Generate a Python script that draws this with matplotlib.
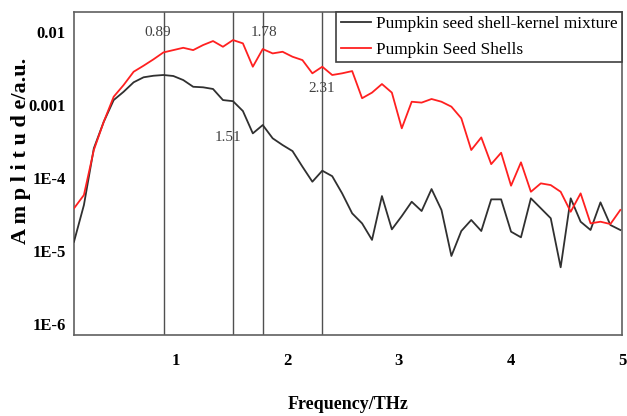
import matplotlib
matplotlib.use('Agg')
import matplotlib.pyplot as plt

# frequency grid (THz) and spectral amplitudes
freq = [0.085, 0.174, 0.263, 0.352, 0.441, 0.530, 0.620, 0.709, 0.798, 0.887,
        0.976, 1.065, 1.154, 1.243, 1.332, 1.421, 1.511, 1.600, 1.689, 1.778,
        1.867, 1.956, 2.045, 2.134, 2.223, 2.312, 2.401, 2.490, 2.580, 2.669,
        2.758, 2.847, 2.936, 3.025, 3.114, 3.203, 3.292, 3.381, 3.470, 3.559,
        3.648, 3.738, 3.827, 3.916, 4.005, 4.094, 4.183, 4.272, 4.361, 4.450,
        4.540, 4.629, 4.718, 4.807, 4.896, 4.985]

mixture = [1.34e-5, 4.26e-5, 2.55e-4, 5.9e-4, 1.17e-3, 1.52e-3, 2.05e-3, 2.40e-3, 2.52e-3, 2.58e-3,
           2.50e-3, 2.20e-3, 1.78e-3, 1.75e-3, 1.66e-3, 1.17e-3, 1.13e-3, 8.28e-4, 4.09e-4, 5.32e-4,
           3.5e-4, 2.83e-4, 2.34e-4, 1.43e-4, 8.9e-5, 1.26e-4, 1.06e-4, 6.16e-5, 3.28e-5, 2.39e-5,
           1.42e-5, 5.66e-5, 1.98e-5, 3.01e-5, 4.73e-5, 3.53e-5, 7.06e-5, 3.65e-5, 8.55e-6, 1.88e-5,
           2.66e-5, 1.88e-5, 5.1e-5, 5.1e-5, 1.84e-5, 1.54e-5, 5.27e-5, 3.85e-5, 2.81e-5, 5.98e-6,
           5.27e-5, 2.52e-5, 1.94e-5, 4.64e-5, 2.27e-5, 1.94e-5]

shells = [3.84e-5, 5.85e-5, 2.42e-4, 5.9e-4, 1.30e-3, 1.88e-3, 2.86e-3, 3.46e-3, 4.23e-3, 5.26e-3,
          5.66e-3, 6.09e-3, 5.66e-3, 6.64e-3, 7.53e-3, 6.29e-3, 7.77e-3, 7.0e-3, 3.35e-3, 5.85e-3,
          5.1e-3, 5.37e-3, 4.59e-3, 4.13e-3, 2.72e-3, 3.35e-3, 2.58e-3, 2.72e-3, 2.92e-3, 1.24e-3,
          1.48e-3, 1.94e-3, 1.48e-3, 4.8e-4, 1.11e-3, 1.08e-3, 1.21e-3, 1.11e-3, 9.5e-4, 6.58e-4,
          2.42e-4, 3.6e-4, 1.55e-4, 2.22e-4, 7.85e-5, 1.64e-4, 6.48e-5, 8.45e-5, 8.0e-5, 6.48e-5,
          3.45e-5, 6.16e-5, 2.39e-5, 2.52e-5, 2.34e-5, 3.65e-5]

# marked frequencies and where their labels sit (y in data units)
peaks = [0.89, 1.51, 1.78, 2.31]
peak_labels = ['0.89', '1.51', '1.78', '2.31']
peak_label_x = [0.84, 1.47, 1.79, 2.31]
peak_label_y = [0.01, 3.6e-4, 0.01, 1.7e-3]

yticks = [1e-6, 1e-5, 1e-4, 1e-3, 1e-2]
ytick_labels = ['1E-6', '1E-5', '1E-4', '0.001', '0.01']
xticks = [1, 2, 3, 4, 5]

serif = 'Liberation Serif'

fig = plt.figure(figsize=(6.27, 4.16), dpi=100)
ax = fig.add_axes([0.118, 0.1947, 0.874, 0.7763])

for p in peaks:
    ax.axvline(p, color='#505050', lw=1.0, zorder=1)

ax.plot(freq, mixture, color='#303030', lw=1.3, label='Pumpkin seed shell-kernel mixture', zorder=3)
ax.plot(freq, shells, color='#ff2020', lw=1.3, label='Pumpkin Seed Shells', zorder=3)

for lx, ly, txt in zip(peak_label_x, peak_label_y, peak_labels):
    ax.text(lx, ly, txt, ha='center', va='center', fontsize=11,
            family=serif, color='#404040')

ax.set_yscale('log')
ax.set_xlim(0.085, 5.0)
ax.set_ylim(10 ** -6.151, 10 ** -1.726)

ax.set_yticks(yticks)
ax.set_yticklabels(ytick_labels)
ax.yaxis.set_minor_locator(matplotlib.ticker.NullLocator())
ax.set_xticks(xticks)
ax.set_xticklabels([str(t) for t in xticks])
ax.tick_params(axis='both', length=0)
ax.tick_params(axis='y', pad=6)
ax.tick_params(axis='x', pad=13)
for lab in ax.get_xticklabels() + ax.get_yticklabels():
    lab.set_fontfamily(serif)
    lab.set_fontweight('bold')
    lab.set_fontsize(12)

for s in ax.spines.values():
    s.set_color('#606060')
    s.set_linewidth(1.2)

fig.text(0.555, 0.027, 'Frequency/THz', ha='center', va='center',
         fontsize=13, fontweight='bold', family=serif)
fig.text(0.033, 0.637, 'A m p l i t u d e/a.u.', ha='center', va='center',
         rotation=90, fontsize=16, fontweight='bold', family=serif)

leg = ax.legend(loc='upper right', borderaxespad=0, fancybox=False,
                framealpha=1, edgecolor='#404040', handlelength=1.75,
                handletextpad=0.3, borderpad=0.25, labelspacing=0.55,
                prop={'family': serif, 'size': 12.4})
leg.get_frame().set_linewidth(1.2)

plt.savefig('out.png', format='png')
